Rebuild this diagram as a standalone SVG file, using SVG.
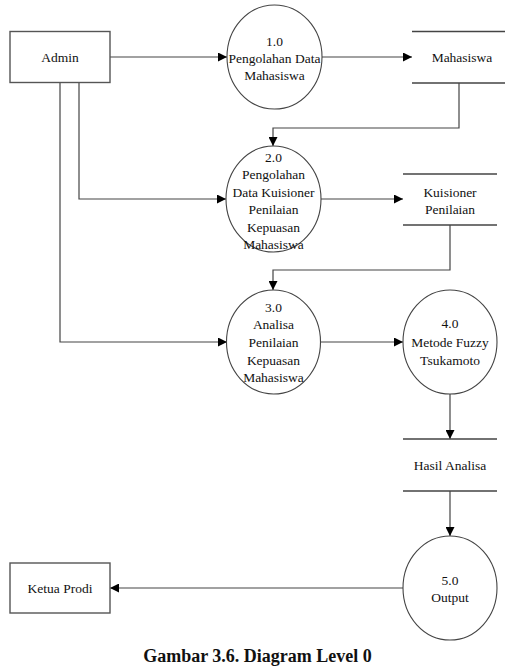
<svg xmlns="http://www.w3.org/2000/svg" width="505" height="669" viewBox="0 0 505 669">
<defs>
<style>
.ln{fill:none;stroke:#444;stroke-width:1.2}
.bx{fill:#fff;stroke:#555;stroke-width:1.4}
.pr{fill:#fff;stroke:#444;stroke-width:1.1}
.st{fill:none;stroke:#444;stroke-width:1.3}
text{font-family:"Liberation Serif","Times New Roman",serif;font-size:13.5px;fill:#111;text-anchor:middle}
.cap{font-size:18px;font-weight:bold}
</style>
<marker id="ar" markerUnits="userSpaceOnUse" markerWidth="9" markerHeight="9" viewBox="0 0 10 10" refX="10" refY="5" orient="auto">
<path d="M0,0 L10,5 L0,10 z" fill="#000"/>
</marker>
</defs>
<g id="connectors">
<path class="ln" d="M110,57 H227" marker-end="url(#ar)"/>
<path class="ln" d="M322,57 H412" marker-end="url(#ar)"/>
<path class="ln" d="M459,83 V128 H273 V146" marker-end="url(#ar)"/>
<path class="ln" d="M79,83 V199 H226" marker-end="url(#ar)"/>
<path class="ln" d="M321,199 H403" marker-end="url(#ar)"/>
<path class="ln" d="M450,225 V270 H273 V290" marker-end="url(#ar)"/>
<path class="ln" d="M60,83 V342 H227" marker-end="url(#ar)"/>
<path class="ln" d="M320,342 H403" marker-end="url(#ar)"/>
<path class="ln" d="M450,394 V439" marker-end="url(#ar)"/>
<path class="ln" d="M450,491 V536" marker-end="url(#ar)"/>
<path class="ln" d="M403,588 H110" marker-end="url(#ar)"/>
</g>
<g id="admin">
<rect class="bx" x="10" y="31.5" width="100" height="51"/>
<text x="60" y="61.5">Admin</text>
</g>
<g id="p1">
<ellipse class="pr" cx="274.5" cy="57" rx="47.5" ry="52"/>
<text x="274.5" y="45.5">1.0</text>
<text x="274.5" y="62.5">Pengolahan Data</text>
<text x="274.5" y="79.5">Mahasiswa</text>
</g>
<g id="mahasiswa">
<path class="st" d="M412,31.5 H505 M412,83 H505"/>
<text x="462" y="61.5">Mahasiswa</text>
</g>
<g id="p2">
<ellipse class="pr" cx="273.5" cy="199" rx="47.5" ry="53"/>
<text x="273.5" y="161.5">2.0</text>
<text x="273.5" y="178.5">Pengolahan</text>
<text x="273.5" y="196.5">Data Kuisioner</text>
<text x="273.5" y="214">Penilaian</text>
<text x="273.5" y="231.5">Kepuasan</text>
<text x="273.5" y="249">Mahasiswa</text>
</g>
<g id="kuisioner">
<path class="st" d="M403,174 H497" stroke-width="2.2"/>
<path class="st" d="M403,225 H497"/>
<text x="450" y="196.5">Kuisioner</text>
<text x="450" y="214">Penilaian</text>
</g>
<g id="p3">
<ellipse class="pr" cx="273.5" cy="342" rx="47" ry="52"/>
<text x="273.5" y="311.5">3.0</text>
<text x="273.5" y="329">Analisa</text>
<text x="273.5" y="347">Penilaian</text>
<text x="273.5" y="364.5">Kepuasan</text>
<text x="273.5" y="382">Mahasiswa</text>
</g>
<g id="p4">
<ellipse class="pr" cx="450" cy="342" rx="47" ry="52"/>
<text x="450" y="327.5">4.0</text>
<text x="450" y="346.5">Metode Fuzzy</text>
<text x="450" y="364.5">Tsukamoto</text>
</g>
<g id="hasil">
<path class="st" d="M403,439 H497 M403,491 H497"/>
<text x="450" y="469.5">Hasil Analisa</text>
</g>
<g id="p5">
<ellipse class="pr" cx="450" cy="588" rx="47" ry="52"/>
<text x="450" y="584.5">5.0</text>
<text x="450" y="601.5">Output</text>
</g>
<g id="ketua">
<rect class="bx" x="10" y="563" width="100" height="50"/>
<text x="60" y="592.5">Ketua Prodi</text>
</g>
<text class="cap" x="257.5" y="662">Gambar 3.6. Diagram Level 0</text>
</svg>
